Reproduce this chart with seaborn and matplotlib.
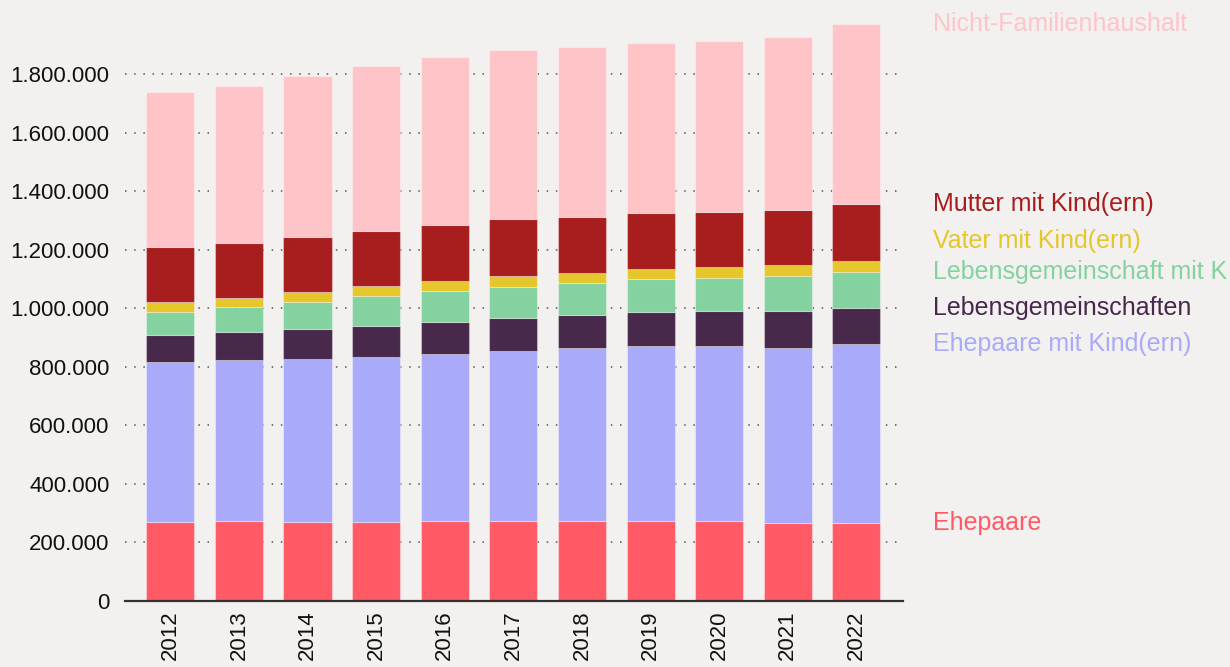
import matplotlib
matplotlib.use("Agg")
import matplotlib.pyplot as plt
import seaborn as sns
import numpy as np
import pandas as pd
from matplotlib.ticker import FuncFormatter

years = ["2012", "2013", "2014", "2015", "2016", "2017", "2018", "2019", "2020", "2021", "2022"]

ehepaare = [271000, 272000, 270000, 270000, 272000, 272000, 272000, 272000, 272000, 265000, 267000]
ehepaare_kind = [545000, 550000, 556000, 562000, 572000, 582000, 592000, 598000, 600000, 598000, 610000]
lebensgemeinschaften = [91000, 96000, 103000, 107000, 110000, 113000, 113000, 116000, 119000, 126000, 125000]
lebensgem_kind = [81000, 85000, 91000, 102000, 105000, 105000, 108000, 113000, 114000, 122000, 122000]
vater_kind = [33000, 33000, 34000, 35000, 33000, 38000, 36000, 35000, 36000, 36000, 36000]
mutter_kind = [188000, 188000, 189000, 188000, 192000, 195000, 192000, 190000, 187000, 187000, 196000]
nicht_familie = [529000, 535000, 549000, 563000, 574000, 577000, 579000, 583000, 586000, 591000, 614000]

series_names = ["Ehepaare", "Ehepaare mit Kind(ern)", "Lebensgemeinschaften",
                "Lebensgemeinschaft mit K", "Vater mit Kind(ern)",
                "Mutter mit Kind(ern)", "Nicht-Familienhaushalt"]
series_values = [ehepaare, ehepaare_kind, lebensgemeinschaften, lebensgem_kind,
                 vater_kind, mutter_kind, nicht_familie]
series_colors = ["#FF5A66", "#A9AAFA", "#48284B", "#84D29F", "#E5C62B", "#A81E1E", "#FEC4C8"]

y_ticks = [0, 200000, 400000, 600000, 800000, 1000000, 1200000, 1400000, 1600000, 1800000]

bg = "#F2F1EF"
sns.set_theme(style="white")
plt.rcParams["font.family"] = ["Liberation Sans", "DejaVu Sans"]

fig = plt.figure(figsize=(12.3, 6.67), dpi=100, facecolor=bg)
ax = fig.add_axes([125 / 1230, 1 - 601 / 667, 778 / 1230, 601 / 667])
ax.set_facecolor(bg)

df = pd.DataFrame({"year": years})
bottom = np.zeros(len(years))
for name, vals, col in zip(series_names, series_values, series_colors):
    df["value"] = vals
    sns.barplot(data=df, x="year", y="value", order=years, color=col, width=0.7,
                bottom=bottom, ax=ax, edgecolor=(1, 1, 1, 0.35), linewidth=0.8,
                zorder=3, saturation=1)
    bottom = bottom + np.array(vals)

ax.set_xlim(-0.66, len(years) - 1 + 0.68)
ax.set_ylim(0, 2053000)
ax.set_yticks(y_ticks)
ax.yaxis.set_major_formatter(FuncFormatter(lambda v, p: f"{int(v):,}".replace(",", ".")))
for t in y_ticks[1:]:
    ax.axhline(t, color="#555555", linestyle=(0, (1, 5)), linewidth=1.1, zorder=1)
ax.tick_params(axis="y", length=0, pad=11, labelsize=16, colors="#111111")
ax.tick_params(axis="x", length=0, pad=7, labelsize=16, colors="#111111", rotation=90)
ax.set_xlabel("")
ax.set_ylabel("")
for s in ["top", "right", "left"]:
    ax.spines[s].set_visible(False)
ax.spines["bottom"].set_color("#333333")
ax.spines["bottom"].set_linewidth(1.6)
ax.spines["bottom"].set_zorder(4)

# labels at right, placed at top of each segment of the last bar
tops = np.cumsum([v[-1] for v in series_values])
min_gap = 105000
prev = -1e9
for txt, top, col in zip(series_names, tops, series_colors):
    ypos = max(top, prev + min_gap)
    prev = ypos
    ax.text(1.0386, ypos, txt, transform=ax.get_yaxis_transform(), color=col,
            fontsize=18, va="center", ha="left", clip_on=False)

fig.savefig("out.png", dpi=100, facecolor=bg)
